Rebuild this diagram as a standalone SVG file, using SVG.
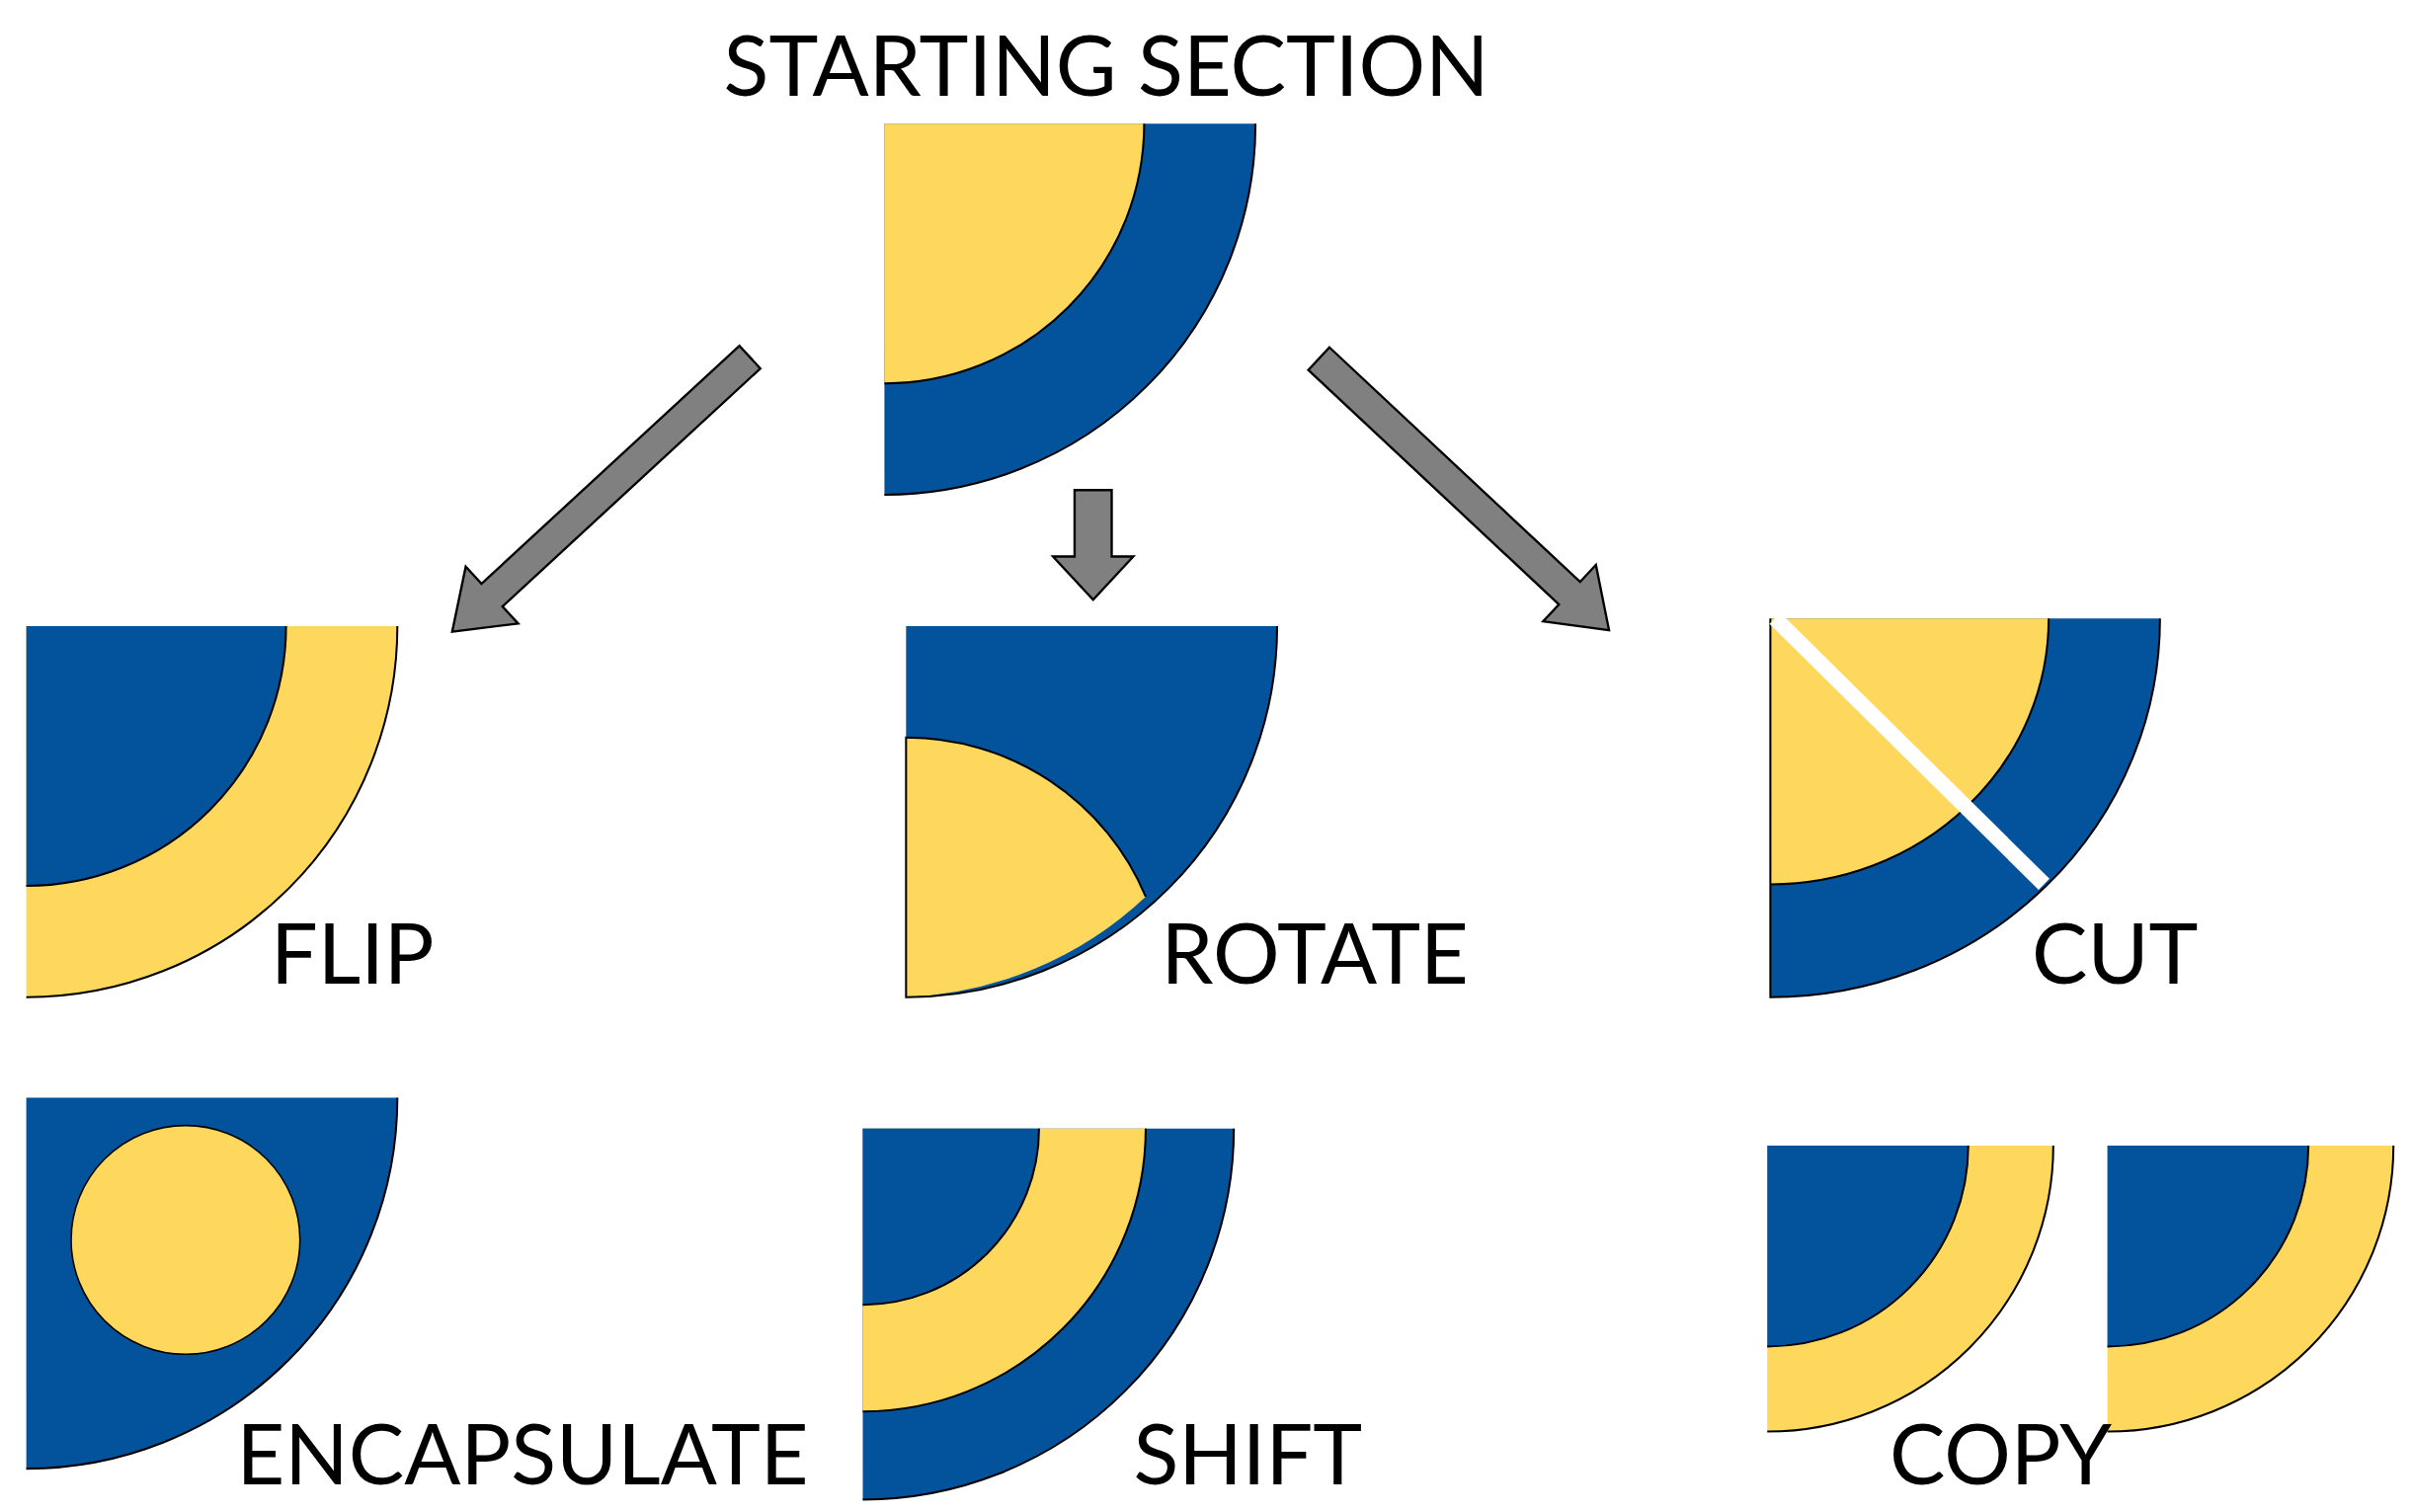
<svg xmlns="http://www.w3.org/2000/svg" width="2442" height="1531" viewBox="0 0 2442 1531">
<style>
.b{fill:#02529C}.y{fill:#FDD85D}.o{fill:none;stroke:#000;stroke-width:1.3}
.ar{fill:#808080;stroke:#000;stroke-width:1.5;stroke-linejoin:miter}
text{font-family:Lato,"Liberation Sans",sans-serif;font-size:54px;fill:#000}
</style>
<rect width="2442" height="1531" fill="#fff"/>
<g transform="scale(1.5654)">
<g id="start">
<path class="b" d="M572,80 H812 A240,240 0 0 1 572,320 Z"/>
<path class="y" d="M572,80 H740 A168,168 0 0 1 572,248 Z"/>
<path class="o" d="M812,80 A240,240 0 0 1 572,320 M740,80 A168,168 0 0 1 572,248"/>
<text x="468" y="62">STARTING SECTION</text>
</g>
<g id="flip">
<path class="y" d="M17,405 H257 A240,240 0 0 1 17,645 Z"/>
<path class="b" d="M17,405 H185 A168,168 0 0 1 17,573 Z"/>
<path class="o" d="M257,405 A240,240 0 0 1 17,645 M185,405 A168,168 0 0 1 17,573"/>
<text x="175" y="636">FLIP</text>
</g>
<g id="rotate">
<path class="b" d="M586,405 H826 A240,240 0 0 1 586,645 Z"/>
<path class="y" d="M586,477 A168,168 0 0 1 741,580 A240,240 0 0 1 586,645 Z"/>
<path class="o" d="M826,405 A240,240 0 0 1 586,645 V477 A168,168 0 0 1 741,580"/>
<text x="751" y="636">ROTATE</text>
</g>
<g id="cut">
<path class="b" d="M1145,400 H1397 A252,245 0 0 1 1145,645 Z"/>
<path class="y" d="M1145,400 H1325 A180,172 0 0 1 1145,572 Z"/>
<path class="o" d="M1397,400 A252,245 0 0 1 1145,645 V400 M1325,400 A180,172 0 0 1 1145,572"/>
<line x1="1148" y1="400" x2="1322" y2="572" stroke="#fff" stroke-width="10"/>
<text x="1314" y="636">CUT</text>
</g>
<g id="encapsulate">
<path class="b" d="M17,710 H257 A240,240 0 0 1 17,950 Z"/>
<path class="o" d="M257,710 A240,240 0 0 1 17,950"/>
<circle class="y" cx="120" cy="802" r="74" stroke="#000" stroke-width="1"/>
<text x="153" y="960">ENCAPSULATE</text>
</g>
<g id="shift">
<path class="b" d="M558,730 H798 A240,240 0 0 1 558,970 Z"/>
<path class="y" d="M558,730 H741 A183,183 0 0 1 558,913 Z"/>
<path class="b" d="M558,730 H672 A114,114 0 0 1 558,844 Z"/>
<path class="o" d="M798,730 A240,240 0 0 1 558,970 M741,730 A183,183 0 0 1 558,913 M672,730 A114,114 0 0 1 558,844"/>
<text x="733" y="960">SHIFT</text>
</g>
<g id="copy">
<path class="y" d="M1143,741 H1328 A185,185 0 0 1 1143,926 Z"/>
<path class="b" d="M1143,741 H1273 A130,130 0 0 1 1143,871 Z"/>
<path class="o" d="M1328,741 A185,185 0 0 1 1143,926 M1273,741 A130,130 0 0 1 1143,871"/>
<path class="y" d="M1363,741 H1548 A185,185 0 0 1 1363,926 Z"/>
<path class="b" d="M1363,741 H1493 A130,130 0 0 1 1363,871 Z"/>
<path class="o" d="M1548,741 A185,185 0 0 1 1363,926 M1493,741 A130,130 0 0 1 1363,871"/>
<text x="1222" y="960">COPY</text>
</g>
<g id="connectors">
<polygon class="ar" transform="translate(485,231) rotate(137.3)" points="0,-10 227,-10 227,-25 262,0 227,25 227,10 0,10"/>
<polygon class="ar" transform="translate(707,317) rotate(90)" points="0,-12 43,-12 43,-26 71,0 43,26 43,12 0,12"/>
<polygon class="ar" transform="translate(853,232) rotate(43.1)" points="0,-10 222,-10 222,-25 257,0 222,25 222,10 0,10"/>
</g>
</g>
</svg>
